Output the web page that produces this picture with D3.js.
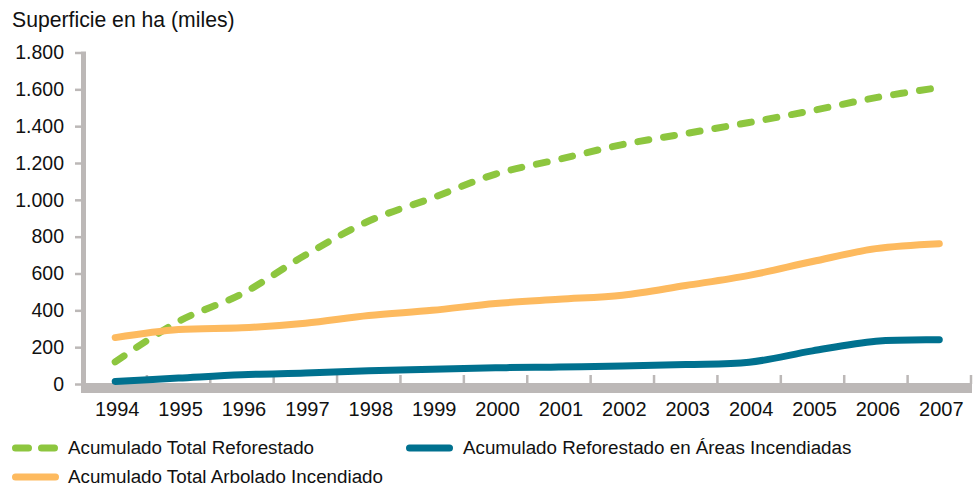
<!DOCTYPE html>
<html>
<head>
<meta charset="utf-8">
<script src="https://cdn.jsdelivr.net/npm/d3@7/dist/d3.min.js"></script>
<style>
  html, body { margin: 0; padding: 0; background: #fff; }
  svg { display: block; font-family: "Liberation Sans", Arial, sans-serif; }
</style>
</head>
<body>
<svg id="chart" width="973" height="486"></svg>
<script>
// Superficie acumulada (miles de ha), 1994–2007
const years = ["1994","1995","1996","1997","1998","1999","2000","2001","2002","2003","2004","2005","2006","2007"];
const totalReforestado = [120, 340, 490, 700, 885, 1010, 1140, 1220, 1300, 1360, 1420, 1485, 1555, 1610];
const reforestadoIncendiadas = [14, 32, 50, 60, 72, 80, 88, 92, 98, 106, 118, 180, 232, 240];
const totalArboladoIncendiado = [252, 296, 305, 330, 372, 400, 437, 460, 482, 535, 590, 665, 735, 762];
const yTicks = [0, 200, 400, 600, 800, 1000, 1200, 1400, 1600, 1800];

const seriesNames = ["Acumulado Total Reforestado", "Acumulado Reforestado en Áreas Incendiadas", "Acumulado Total Arbolado Incendiado"];
const colors = ["#8DC63F", "#00718F", "#FDBA5F"];

const series = [
  { name: seriesNames[0], values: totalReforestado, color: colors[0], dash: "11,15" },
  { name: seriesNames[1], values: reforestadoIncendiadas, color: colors[1], dash: null },
  { name: seriesNames[2], values: totalArboladoIncendiado, color: colors[2], dash: null }
];

const axisGray = "#BCB8B7";
const svg = d3.select("#chart");

const x = d3.scaleBand().domain(years).range([83.5, 971]).padding(0);
const y = d3.scaleLinear().domain([0, 1800]).range([384, 52.5]);

const es = d3.formatLocale({ decimal: ",", thousands: ".", grouping: [3], currency: ["", " €"] });
const fmt = es.format(",");

// Axis title
svg.append("text")
  .attr("x", 12).attr("y", 27)
  .attr("font-size", 21.2).attr("fill", "#111")
  .text("Superficie en ha (miles)");

// Y axis: ticks and labels
const yAxis = svg.append("g")
  .attr("transform", "translate(81,0)")
  .call(d3.axisLeft(y).tickValues(yTicks).tickFormat(fmt).tickSize(6).tickPadding(11));
yAxis.select(".domain").remove();
yAxis.selectAll(".tick line").attr("stroke", axisGray).attr("stroke-width", 2.5);
yAxis.selectAll(".tick text")
  .attr("font-size", 19.5).attr("fill", "#111")
  .attr("font-family", "Liberation Sans, Arial, sans-serif");

// Y axis line
svg.append("rect")
  .attr("x", 81).attr("y", y(1800) - 1)
  .attr("width", 5).attr("height", 393 - y(1800) + 1)
  .attr("fill", axisGray);

// X axis band
svg.append("rect")
  .attr("x", 81).attr("y", 383)
  .attr("width", x.range()[1] + 1 - 81).attr("height", 10)
  .attr("fill", axisGray);

// X axis category labels
const xAxis = svg.append("g")
  .attr("transform", "translate(2,393)")
  .call(d3.axisBottom(x).tickSize(0).tickPadding(9));
xAxis.select(".domain").remove();
xAxis.selectAll(".tick text")
  .attr("font-size", 20).attr("fill", "#111")
  .attr("font-family", "Liberation Sans, Arial, sans-serif");

// Category boundary tick marks
svg.append("g").selectAll("line")
  .data(years)
  .join("line")
  .attr("x1", d => x(d) + x.bandwidth())
  .attr("x2", d => x(d) + x.bandwidth())
  .attr("y1", 375).attr("y2", 384)
  .attr("stroke", axisGray).attr("stroke-width", 2.5);

// Lines
const line = d3.line()
  .x((d, i) => x(years[i]) + x.bandwidth() / 2)
  .y(d => y(d))
  .curve(d3.curveCatmullRom.alpha(0.5));

svg.append("g").selectAll("path")
  .data(series)
  .join("path")
  .attr("d", d => line(d.values))
  .attr("fill", "none")
  .attr("stroke", d => d.color)
  .attr("stroke-width", 7)
  .attr("stroke-linecap", "round")
  .attr("stroke-linejoin", "round")
  .attr("stroke-dasharray", d => d.dash);

// Legend
const legendPos = [
  { x: 15.5, y: 448, tx: 68 },
  { x: 409.5, y: 448, tx: 463 },
  { x: 15.5, y: 477, tx: 68 }
];
const legend = svg.append("g").selectAll("g")
  .data(series)
  .join("g")
  .attr("transform", (d, i) => `translate(${legendPos[i].x},${legendPos[i].y})`);
legend.append("line")
  .attr("x1", 0).attr("x2", 40)
  .attr("y1", 0).attr("y2", 0)
  .attr("stroke", d => d.color)
  .attr("stroke-width", 7)
  .attr("stroke-linecap", "round")
  .attr("stroke-dasharray", d => d.dash ? "13,13" : null);
legend.append("text")
  .attr("x", (d, i) => legendPos[i].tx - legendPos[i].x)
  .attr("y", 6)
  .attr("font-size", 18.8).attr("fill", "#111")
  .text(d => d.name);
</script>
</body>
</html>
